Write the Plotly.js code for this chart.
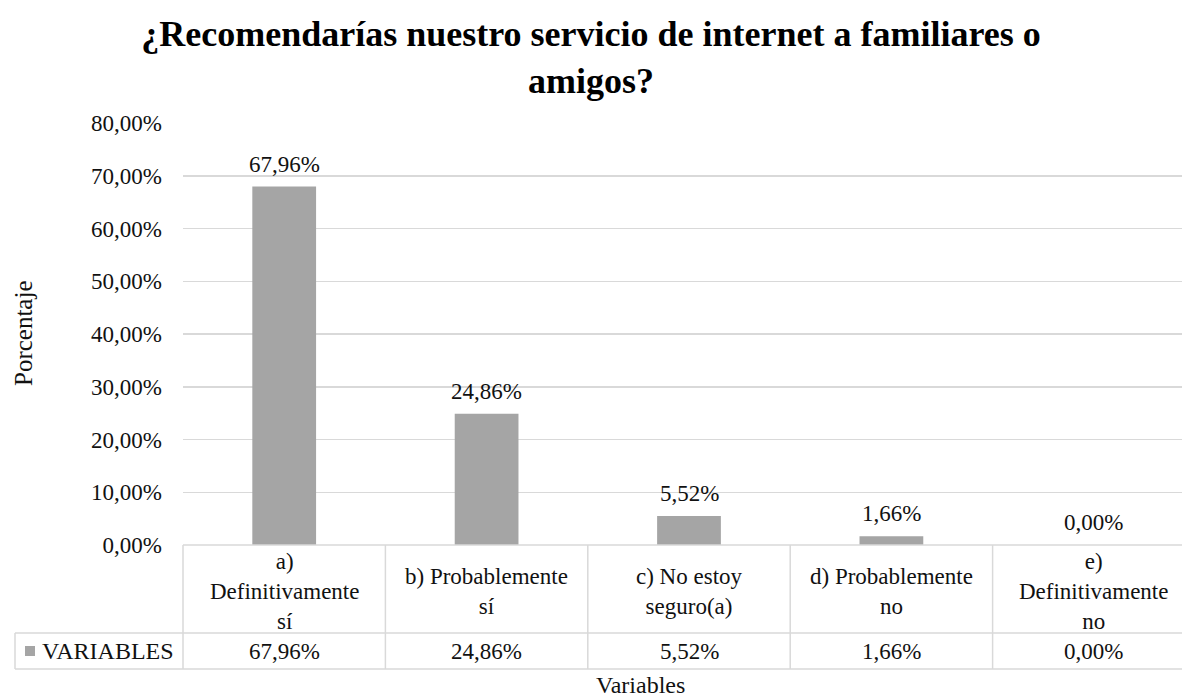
<!DOCTYPE html>
<html>
<head>
<meta charset="utf-8">
<script src="https://cdn.plot.ly/plotly-3.0.1.min.js"></script>
<style>html,body{margin:0;padding:0;background:#fff;}#chart{width:1182px;height:700px;}</style>
</head>
<body>
<div id="chart"></div>
<script>
// ---- data ----
const categories = [
  "a)<br>Definitivamente<br>sí",
  "b) Probablemente<br>sí",
  "c) No estoy<br>seguro(a)",
  "d) Probablemente<br>no",
  "e)<br>Definitivamente<br>no"
];
const values = [0.6796, 0.2486, 0.0552, 0.0166, 0.0000];
const seriesName = "VARIABLES";
const chartTitle = "¿Recomendarías nuestro servicio de internet a familiares o<br>amigos?";
const yTitle = "Porcentaje";
const xTitle = "Variables";

// ---- styles ----
const FONT = "Liberation Serif, Times New Roman, serif";
const TXT = "#111111";
const BAR = "#a5a5a5";
const GRID = "#d9d9d9";
const LINE = "#d9d9d9";
const FS = 23;

const W = 1182, H = 700;
const M = {l: 183, r: 0, t: 123, b: 155};
const plotW = W - M.l - M.r, plotH = H - M.t - M.b;
const catW = 202.4;                       // px per category (table continues past right edge)
const xMax = -0.5 + plotW / catW;
const n = categories.length;

function fmt(v){ return (v*100).toFixed(2).replace('.', ',') + '%'; }
function px2paperX(px){ return (px - M.l) / plotW; }
function px2paperY(py){ return (H - M.b - py) / plotH; }
function catBoundPaper(k){ return k / (xMax + 0.5); }

const yHeadBottom = px2paperY(633);
const yTableBottom = px2paperY(669);
const xLegendLeft = px2paperX(15);
const xRightEnd = catBoundPaper(n);

const shapes = [];
const lineStyle = {color: LINE, width: 1.5};
shapes.push({type:'line', xref:'paper', yref:'paper', x0:0, x1:xRightEnd, y0:0, y1:0, line:lineStyle});
shapes.push({type:'line', xref:'paper', yref:'paper', x0:xLegendLeft, x1:xRightEnd, y0:yHeadBottom, y1:yHeadBottom, line:lineStyle});
shapes.push({type:'line', xref:'paper', yref:'paper', x0:xLegendLeft, x1:xRightEnd, y0:yTableBottom, y1:yTableBottom, line:lineStyle});
shapes.push({type:'line', xref:'paper', yref:'paper', x0:xLegendLeft, x1:xLegendLeft, y0:yHeadBottom, y1:yTableBottom, line:lineStyle});
for (let k = 0; k <= n; k++) {
  const xp = catBoundPaper(k);
  shapes.push({type:'line', xref:'paper', yref:'paper', x0:xp, x1:xp, y0:0, y1:yTableBottom, line:lineStyle});
}
// legend key square
shapes.push({type:'rect', xref:'paper', yref:'paper', x0:px2paperX(25), x1:px2paperX(35),
  y0:px2paperY(656), y1:px2paperY(646), fillcolor:BAR, line:{width:0}});

const annotations = [];
const yHeadCenter = px2paperY(591);
const yValCenter = px2paperY(651);
categories.forEach((c, i) => {
  annotations.push({x: i, y: values[i], xref:'x', yref:'y', text: fmt(values[i]), showarrow:false,
    yanchor:'bottom', yshift: 8, font:{family:FONT, size:FS, color:TXT}});
  annotations.push({x: i, y: yHeadCenter, xref:'x', yref:'paper', text: c, showarrow:false,
    yanchor:'middle', xanchor:'center', align:'center', font:{family:FONT, size:FS, color:TXT}});
  annotations.push({x: i, y: yValCenter, xref:'x', yref:'paper', text: fmt(values[i]), showarrow:false,
    yanchor:'middle', xanchor:'center', font:{family:FONT, size:FS, color:TXT}});
});
annotations.push({x: px2paperX(40), y: yValCenter, xref:'paper', yref:'paper', xanchor:'left', yanchor:'middle',
  showarrow:false, text: seriesName, font:{family:FONT, size:24, color:TXT}});
annotations.push({x: px2paperX(640), y: px2paperY(685), xref:'paper', yref:'paper', xanchor:'center', yanchor:'middle',
  showarrow:false, text: xTitle, font:{family:FONT, size:24, color:TXT}});
annotations.push({x: px2paperX(23), y: px2paperY(333), xref:'paper', yref:'paper', xanchor:'center', yanchor:'middle',
  textangle: -90, showarrow:false, text: yTitle, font:{family:FONT, size:25, color:TXT}});

const trace = {
  type: 'bar',
  x: categories.map((c, i) => i),
  y: values,
  name: seriesName,
  marker: {color: BAR},
  width: 0.315,
  hoverinfo: 'skip'
};

const layout = {
  width: W, height: H,
  margin: M,
  paper_bgcolor: '#fff', plot_bgcolor: '#fff',
  separators: ',.',
  showlegend: false,
  font: {family: FONT, size: FS, color: TXT},
  title: {text: '<b>' + chartTitle + '</b>', x: 0.5, xanchor: 'center', xref: 'container',
    y: 0.934, yanchor: 'top', yref: 'container',
    font: {family: FONT, size: 36, color: '#000'}},
  xaxis: {range: [-0.5, xMax], showticklabels: false, ticks: '', showgrid: false, zeroline: false,
    showline: false, fixedrange: true, automargin: false},
  yaxis: {range: [0, 0.8], dtick: 0.1, tickformat: '.2%', showgrid: true, gridcolor: GRID, gridwidth: 1.5,
    zeroline: false, showline: false, ticks: '', ticklen: 0, automargin: false, ticklabelstandoff: 20,
    tickfont: {family: FONT, size: FS, color: TXT}},
  shapes: shapes,
  annotations: annotations
};

Plotly.newPlot('chart', [trace], layout, {displayModeBar: false, staticPlot: true});
</script>
</body>
</html>
